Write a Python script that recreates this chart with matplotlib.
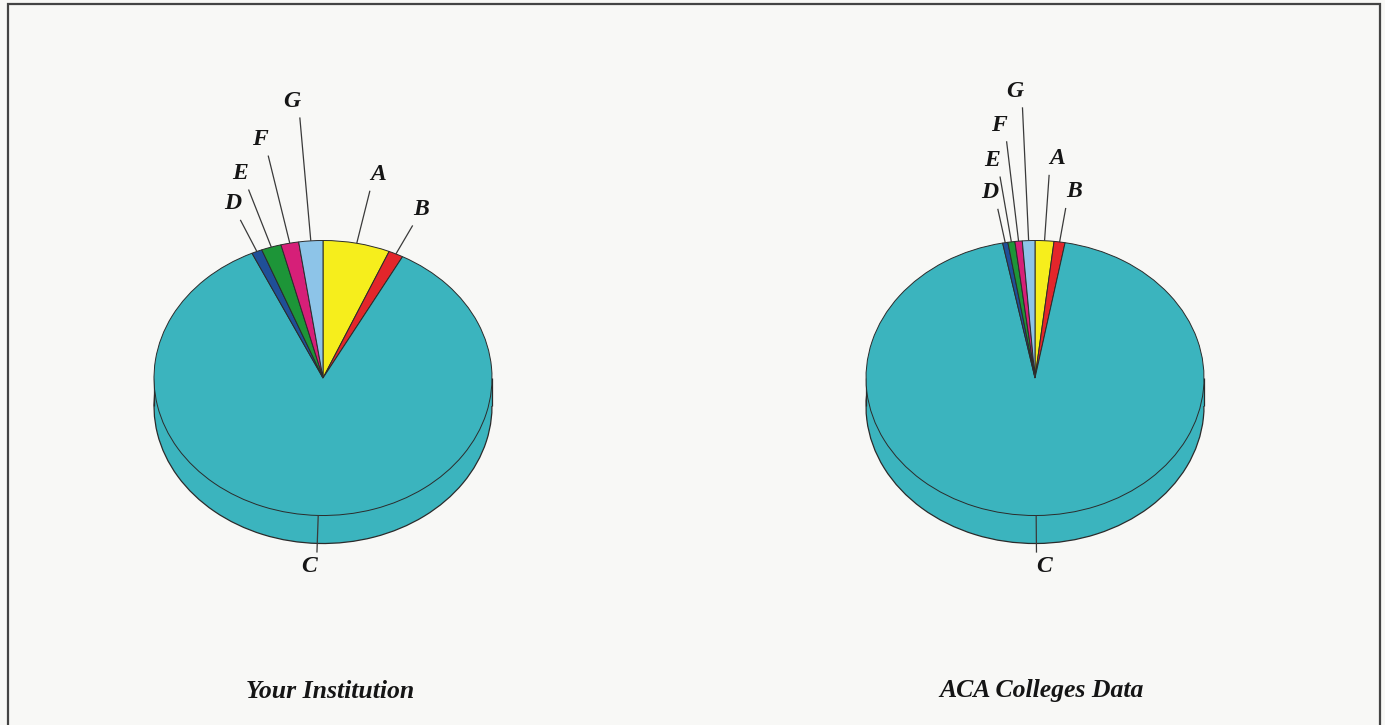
"""Two 3D-style pie charts: Your Institution vs ACA Colleges Data."""

import numpy as np
import matplotlib.pyplot as plt
from matplotlib.patches import Rectangle

# ---- data ---------------------------------------------------------------
LABELS = ["A", "B", "C", "D", "E", "F", "G"]
YOUR_INSTITUTION = [6.4, 1.4, 85.3, 1.0, 1.9, 1.7, 2.3]
ACA_COLLEGES = [1.8, 1.05, 94.1, 0.5, 0.67, 0.7, 1.2]
TITLES = ["Your Institution", "ACA Colleges Data"]

COLORS = ["#f6ee1c", "#e3262b", "#3bb4be", "#1f4f98", "#1d9538",
          "#d61f78", "#8dc4e8"]
# leader end radius per label (1 = pie rim)
LEADERS = [
    [1.39, 1.23, 1.27, 1.25, 1.44, 1.65, 1.90],
    [1.48, 1.25, 1.27, 1.25, 1.48, 1.73, 1.97],
]

FONT = dict(family="Liberation Serif", weight="bold", style="italic")
EDGE = "#2b2b2b"
BG = "#f8f8f6"

W, H = 1385, 725
RX, RY = 169, 137.5          # pie radii in pixels
DEPTH = 28 / RY              # pie thickness in y data units
XL, YB, YT = 1.5, 1.6, 2.2   # axes extents in pie radii


def pie_axes(fig, cx, cy):
    left = (cx - XL * RX) / W
    bottom = 1 - (cy + YB * RY) / H
    return fig.add_axes([left, bottom, 2 * XL * RX / W, (YB + YT) * RY / H])


def draw_pie(ax, values, leaders):
    # bottom disc (only the front of it stays visible)
    ax.pie(values, colors=COLORS, startangle=90, counterclock=False,
           center=(0, -DEPTH), wedgeprops=dict(edgecolor=EDGE, linewidth=0.9))
    ax.add_patch(Rectangle((-1, -DEPTH), 2, DEPTH, facecolor=COLORS[2],
                           edgecolor="none", zorder=1))
    ax.vlines([-0.999, 0.999], -DEPTH, 0, color=EDGE, linewidth=0.9, zorder=1)
    wedges, _ = ax.pie(values, colors=COLORS, startangle=90, counterclock=False,
                       wedgeprops=dict(edgecolor=EDGE, linewidth=0.7))
    for w in wedges:
        w.set_zorder(2)

    ax.set_aspect("auto")
    ax.set_xlim(-XL, XL)
    ax.set_ylim(-YB, YT)
    ax.axis("off")

    total = sum(values)
    start = 90.0
    for lab, val, r in zip(LABELS, values, leaders):
        sweep = 360.0 * val / total
        mid = np.deg2rad(start - sweep / 2)
        start -= sweep
        c, s = np.cos(mid), np.sin(mid)
        ax.plot([c, r * c], [s, r * s], color="#3a3a3a", linewidth=0.9,
                zorder=3, solid_capstyle="butt")
        dx = 8 if c >= 0 else -8
        dy = 16 if s >= 0 else -14
        ax.annotate(lab, (r * c, r * s), xytext=(dx, dy),
                    textcoords="offset pixels", ha="center", va="center",
                    fontsize=17, color="#151515", **FONT)


fig = plt.figure(figsize=(W / 100, H / 100), dpi=100)
fig.patch.set_facecolor(BG)
fig.add_artist(Rectangle((7.5 / W, -0.01), (1380 - 7.5) / W, 1.01 - 3.5 / H,
                         transform=fig.transFigure, fill=False,
                         edgecolor="#444444", linewidth=1.6))

centers = [(323, 378), (1035, 378)]
for (cx, cy), values, leaders, title in zip(
        centers, [YOUR_INSTITUTION, ACA_COLLEGES], LEADERS, TITLES):
    ax = pie_axes(fig, cx, cy)
    draw_pie(ax, values, leaders)
    fig.text((cx + 7) / W, 1 - 691 / H, title, ha="center", va="center",
             fontsize=18.5, color="#151515", **FONT)

fig.savefig("out.png", dpi=100, facecolor=BG)
